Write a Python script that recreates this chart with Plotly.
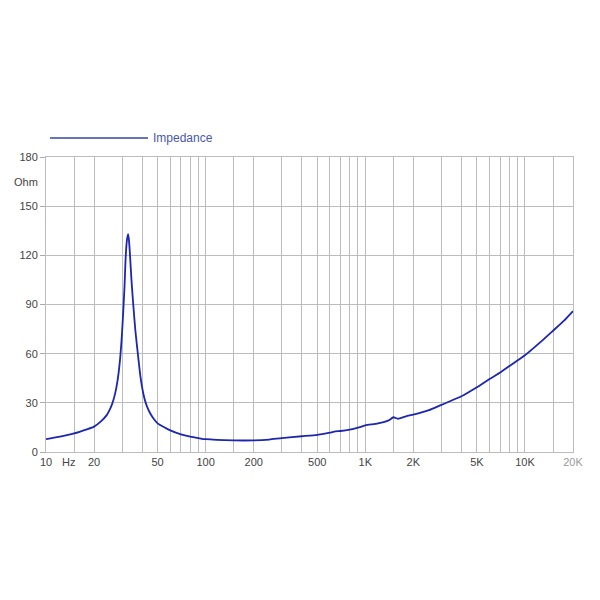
import numpy as np
import plotly.graph_objects as go

freq = [10, 12, 15, 18, 20, 22, 24, 25, 26, 27, 28, 29, 30, 31, 31.6, 32.2, 32.7, 33.1, 33.6, 34.3, 35.2, 36.3,
        37.6, 39.3, 41.3, 43, 45, 47.5, 50, 55, 60, 70, 80, 90, 100, 150, 200, 250, 300, 400, 500, 600, 650, 700,
        800, 900, 1000, 1200, 1400, 1500, 1600, 1800, 2000, 2500, 3000, 4000, 5000, 6000, 7000, 8000, 10000,
        12500, 15000, 17500, 20000]
impedance = [7.8, 9.2, 11.3, 13.8, 15.5, 18.5, 22.5, 25.5, 29.5, 35, 43, 55, 74, 100, 120, 130, 133, 129, 120, 105,
             90, 74, 60, 44, 33, 27.5, 23.5, 20, 17.5, 15.1, 13.2, 10.8, 9.4, 8.5, 7.8, 7.1, 7.1, 7.6, 8.5, 9.6, 10.5,
             11.8, 12.6, 12.8, 13.6, 14.8, 16.2, 17.4, 19.3, 21.2, 20.3, 21.8, 22.8, 25.5, 28.8, 34, 39.5, 44.5,
             48.5, 52.5, 59, 67, 74, 80, 86]

grid_vals = [m * 10 ** d for d in range(1, 5) for m in (1, 1.5, 2, 3, 4, 5, 6, 7, 8, 9) if m * 10 ** d <= 20000]
label_map = {10: "10", 20: "20", 50: "50", 100: "100", 200: "200", 500: "500", 1000: "1K",
             2000: "2K", 5000: "5K", 10000: "10K", 20000: "<span style='color:#9a9a9a'>20K</span>"}
grid_text = [label_map.get(v, "") for v in grid_vals]

y_ticks = [0, 30, 60, 90, 120, 150, 180]

fig = go.Figure()
fig.add_trace(go.Scatter(x=freq, y=impedance, mode="lines", name="Impedance",
                         line=dict(color="#1c26b0", width=1.8, shape="spline", smoothing=0.6),
                         showlegend=False))

fig.update_layout(
    width=600, height=600,
    margin=dict(l=46, r=27, t=157, b=148),
    paper_bgcolor="white", plot_bgcolor="white",
    font=dict(family="Liberation Sans, Arial, sans-serif", size=11, color="#444"),
    xaxis=dict(type="log", range=[1, np.log10(20000)], tickmode="array",
               tickvals=grid_vals, ticktext=grid_text, showgrid=True,
               gridcolor="#bcbcbc", gridwidth=1, ticks="", zeroline=False,
               showline=True, linecolor="#bcbcbc", mirror=True),
    yaxis=dict(range=[0, 180], tickmode="array", tickvals=y_ticks,
               showgrid=True, gridcolor="#bcbcbc", gridwidth=1,
               ticks="outside", ticklen=5, tickcolor="#aaaaaa", zeroline=False,
               showline=True, linecolor="#bcbcbc", mirror=True),
    shapes=[dict(type="line", xref="paper", yref="paper", x0=0.0076, x1=0.1935,
                 y0=1.0644, y1=1.0644, line=dict(color="#3344aa", width=1.5))],
    annotations=[
        dict(text="Impedance", xref="paper", yref="paper", x=0.1995, y=1.0644,
             xanchor="left", yanchor="middle", showarrow=False,
             font=dict(color="#4a56b0", size=12)),
        dict(text="Ohm", xref="paper", yref="y", x=-0.011, y=165,
             xanchor="right", yanchor="middle", showarrow=False),
        dict(text="Hz", xref="x", yref="paper", x=np.log10(13.9), y=0,
             xanchor="center", yanchor="top", yshift=-2, showarrow=False),
    ],
)

fig.write_html("out.html")
